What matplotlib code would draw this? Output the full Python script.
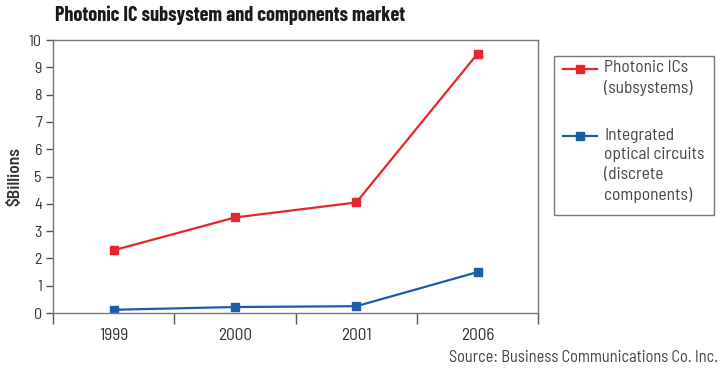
import numpy as np
import matplotlib
matplotlib.use('Agg')
import matplotlib.pyplot as plt
from matplotlib.lines import Line2D
from matplotlib.patches import Rectangle

# Data ($ billions)
years = ['1999', '2000', '2001', '2006']
photonic_ics = [2.3, 3.5, 4.05, 9.5]
integrated_optical = [0.12, 0.22, 0.25, 1.5]
series_labels = ['Photonic ICs\n(subsystems)',
                 'Integrated\noptical circuits\n(discrete\ncomponents)']

red = '#e5262b'
blue = '#1b5ea6'

plt.rcParams['font.family'] = ['Barlow Semi Condensed', 'DejaVu Sans']

fig = plt.figure(figsize=(7.2, 3.74), dpi=100)
ax = fig.add_axes([0.0736, 0.163, 0.674, 0.730])

x = np.arange(len(years))
ax.plot(x, photonic_ics, color=red, lw=1.6, marker='s', ms=5.5)
ax.plot(x, integrated_optical, color=blue, lw=1.6, marker='s', ms=5.5)

ax.set_xlim(-0.5, len(years) - 0.5)
ax.set_ylim(0, 10)
ax.set_yticks(range(0, 11))
ax.set_xticks(x)
ax.set_xticklabels(years)
ax.set_xticks(np.arange(-0.5, len(years)), minor=True)
ax.tick_params(axis='x', which='major', length=0, pad=11, labelsize=12.5, colors='#333333')
ax.tick_params(axis='x', which='minor', length=8, width=1, color='#555555')
ax.tick_params(axis='y', length=5, width=1, color='#555555', labelsize=11.5,
               labelcolor='#333333', pad=3)
for s in ax.spines.values():
    s.set_color('#777777')
    s.set_linewidth(1)

ax.set_ylabel('$Billions', fontsize=12.5, fontweight='semibold', color='#333333', labelpad=5)

fig.text(0.076, 0.958, 'Photonic IC subsystem and components market',
         fontsize=14.6, fontweight='bold', color='#1a1a1a', va='center',
         family=['Barlow Condensed', 'DejaVu Sans'])
fig.text(0.997, 0.045, 'Source: Business Communications Co. Inc.',
         fontsize=11.8, color='#444444', ha='right', va='center')

# legend drawn by hand so markers sit on the first line of each label
fig.add_artist(Rectangle((0.769, 0.425), 0.222, 0.425, transform=fig.transFigure,
                         fill=False, edgecolor='#777777', lw=1))
for lbl, col, ytxt, yh in zip(series_labels, [red, blue], [0.840, 0.658], [0.8155, 0.637]):
    fig.add_artist(Line2D([0.782, 0.8055, 0.829], [yh] * 3, transform=fig.transFigure,
                          color=col, lw=1.6, marker='s', ms=5.5, markevery=[1]))
    fig.text(0.839, ytxt, lbl, fontsize=12.5, color='#444444', va='top',
             linespacing=1.38)

fig.savefig('out.png', dpi=100)
